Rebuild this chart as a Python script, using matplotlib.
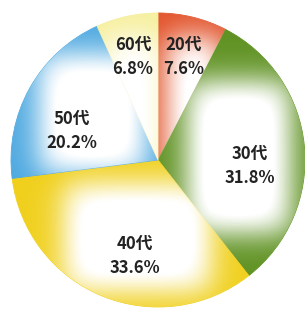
import numpy as np
import matplotlib
matplotlib.use("Agg")
import matplotlib.pyplot as plt

plt.rcParams['font.family'] = ['Noto Sans CJK JP', 'DejaVu Sans']

categories = ["20代", "30代", "40代", "50代", "60代"]
values = [7.6, 31.8, 33.6, 20.2, 6.8]
colors = ["#e2532b", "#5f9222", "#f0d01c", "#4ca8e0", "#f6ef9c"]

W, H = 305, 313
CX, CY, R = 158, 160, 147

def px2d(px, py):
    return (px - CX) / R, (CY - py) / R

# layout: label centres and white glow rectangles (pixel coords)
label_px = [(184, 57), (250, 166), (135, 256), (72, 131), (133, 57)]
glow_px = [(168, 38, 220, 180), (188, 82, 290, 232), (65, 185, 210, 290),
           (40, 55, 145, 172), (105, 38, 160, 180)]

fig = plt.figure(figsize=(W / 100, H / 100), dpi=100)
ax = fig.add_axes([(CX - R) / W, (H - CY - R) / H, 2 * R / W, 2 * R / H])

wedges, _ = ax.pie(values, colors=colors, startangle=90, counterclock=False,
                   radius=1.0, center=(0, 0),
                   wedgeprops=dict(linewidth=0.6))
for w, c in zip(wedges, colors):
    w.set_edgecolor(c)
ax.set_aspect('auto')
ax.axis('off')

n = 500
xs = np.linspace(-1, 1, n)
ys = np.linspace(1, -1, n)
X, Y = np.meshgrid(xs, ys)
s = 0.13

for w, (x0p, y0p, x1p, y1p) in zip(wedges, glow_px):
    x0, y0 = px2d(x0p, y0p)
    x1, y1 = px2d(x1p, y1p)
    ax_ = 0.5 * (np.tanh((X - x0) / s) - np.tanh((X - x1) / s))
    ay_ = 0.5 * (np.tanh((Y - y1) / s) - np.tanh((Y - y0) / s))
    a = np.clip(ax_ * ay_ * 1.2, 0, 1)
    img = np.ones((n, n, 4))
    img[..., 3] = a
    im = ax.imshow(img, extent=(-1, 1, -1, 1), origin='upper', zorder=2,
                   interpolation='bilinear', aspect='auto')
    im.set_clip_path(w)

ax.set_xlim(-1, 1)
ax.set_ylim(-1, 1)

for cat, v, (lx, ly) in zip(categories, values, label_px):
    x, y = px2d(lx, ly)
    ax.text(x, y, f"{cat}\n{v:.1f}%", ha='center', va='center', fontsize=12,
            fontweight='bold', color='#222222', linespacing=1.4, zorder=5)

fig.savefig("out.png", dpi=100, facecolor='white')
